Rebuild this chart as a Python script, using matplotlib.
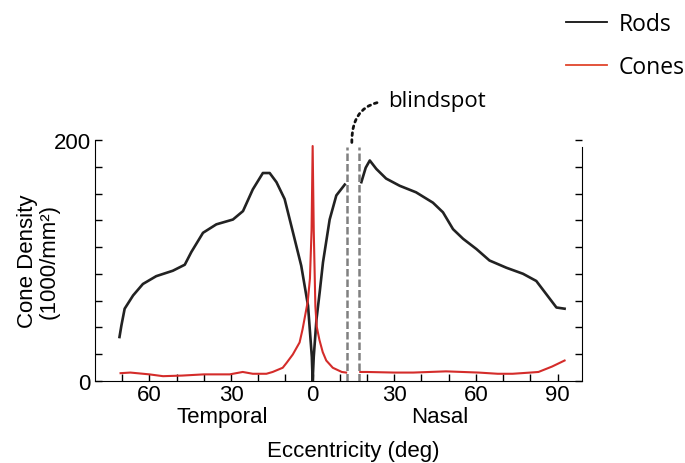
import numpy as np
import matplotlib.pyplot as plt

# eccentricity in deg: temporal side negative, nasal side positive
rods_ecc = [-71, -70.3, -69.1, -66, -62.4, -57.5, -51.4, -47, -44.6, -40.3, -35.4, -29.3, -25.6, -22,
            -18.3, -15.8, -13.3, -10.3, -7.2, -4.2, -1.7, -0.3, 0, 0.4, 1.4, 2.6, 3.8, 6.25, 8.7, 11.8,
            np.nan,
            17.9, 19.5, 21, 23.4, 27, 32, 38, 44.2, 47.9, 51.6, 55.3, 60.2, 65, 71.2, 77.3, 82.2, 85.9,
            89.6, 92.6]
rods_val = [36.5, 46, 60, 71, 80.5, 87, 91.5, 96.5, 107, 123, 130, 134, 141, 159,
            172.6, 172.6, 165, 151, 123, 95.7, 62.5, 20, 0, 20, 51, 74, 98.5, 134, 154, 163,
            np.nan,
            165, 177, 183, 176, 168, 162, 156.6, 148, 140, 126, 118, 109.5, 100, 94, 89, 83, 72,
            61, 60]

cones_ecc = [-70.6, -67, -60, -55, -48, -40, -30.5, -25.7, -22, -17, -14.7, -11, -9.6, -7.3, -4.8, -3.7,
             -1.8, -1.0, -0.4, 0, 0.4, 1.0, 1.5, 2.5, 3.7, 5, 7.4, 10.7, 12.3,
             np.nan,
             17.5, 20, 30, 37, 49, 61, 68, 73.5, 80, 83, 88, 92.6]
cones_val = [6.5, 7, 5.5, 4, 4.5, 5.5, 5.5, 7.5, 6, 6, 7.5, 11, 15, 22, 32, 43,
             66, 85, 125, 195, 125, 62, 45, 34, 24, 17, 11, 7.5, 7,
             np.nan,
             7.5, 7.5, 7, 7, 8, 7, 6, 6, 7, 7.5, 12, 17]

blindspot = [12.5, 17]

xticks = [-60, -30, 0, 30, 60, 90]
xticklabels = ["60", "30", "0", "30", "60", "90"]

plt.rcParams['font.family'] = ['Liberation Sans', 'DejaVu Sans']

fig = plt.figure(figsize=(6.85, 4.64), dpi=100)
ax = fig.add_axes([95 / 685, 1 - 382 / 464, 487 / 685, 241 / 464])

rods_line, = ax.plot(rods_ecc, rods_val, color='#222222', lw=1.9, label='Rods')
cones_line, = ax.plot(cones_ecc, cones_val, color='#d42c2a', lw=1.5, label='Cones')
ax.vlines(blindspot, 0, 194, colors='#808080', lw=1.8, linestyles=[(0, (3, 1.2))])

ax.set_xlim(-80, 99)
ax.set_ylim(0, 200)
ax.spines['top'].set_visible(False)
ax.spines['right'].set_bounds(0, 194)

ax.set_xticks(xticks)
ax.set_xticklabels(xticklabels)
ax.set_xticks(np.arange(-70, 91, 10), minor=True)
ax.set_yticks([0, 200])
ax.set_yticklabels(["0", "200"])
ax.set_yticks(np.linspace(0, 200, 10), minor=True)
ax.tick_params(which='both', direction='in', length=5, width=1, right=True, labelsize=16)
ax.tick_params(axis='x', pad=2)
ax.tick_params(axis='y', pad=3)

ax.set_xlabel("Eccentricity (deg)", fontsize=16)
ax.xaxis.set_label_coords((353 - 95) / 487, -0.245)
ax.set_ylabel("Cone Density\n(1000/mm²)", fontsize=16, linespacing=1.05, va='center')
ax.yaxis.set_label_coords(-0.116, 0.5)

fig.text(222 / 685, 1 - 418 / 464, "Temporal", fontsize=16, ha='center', va='center')
fig.text(440 / 685, 1 - 418 / 464, "Nasal", fontsize=16, ha='center', va='center')

ax.annotate("blindspot", xy=(14.4, 196), xycoords='data',
            xytext=(388, 464 - 102), textcoords='figure pixels',
            ha='left', va='center', fontsize=16, family='Open Sans',
            arrowprops=dict(arrowstyle='-', color='#111111', lw=2, linestyle=(0, (1, 1.5)),
                            connectionstyle='angle,angleA=0,angleB=90,rad=40',
                            relpos=(0, 0.5), patchA=None, shrinkA=8, shrinkB=0))

leg = fig.legend(handles=[rods_line, cones_line], loc='upper left', bbox_to_anchor=(566 / 685, 0.972),
                 frameon=False, prop={'family': 'Open Sans', 'size': 16.5},
                 handlelength=1.8, handletextpad=0.5, labelspacing=0.82, borderpad=0, borderaxespad=0)
for line, col in zip(leg.get_lines(), ['#111111', '#e0452c']):
    line.set_linewidth(1.3)
    line.set_color(col)

plt.savefig("out.png", dpi=100)
